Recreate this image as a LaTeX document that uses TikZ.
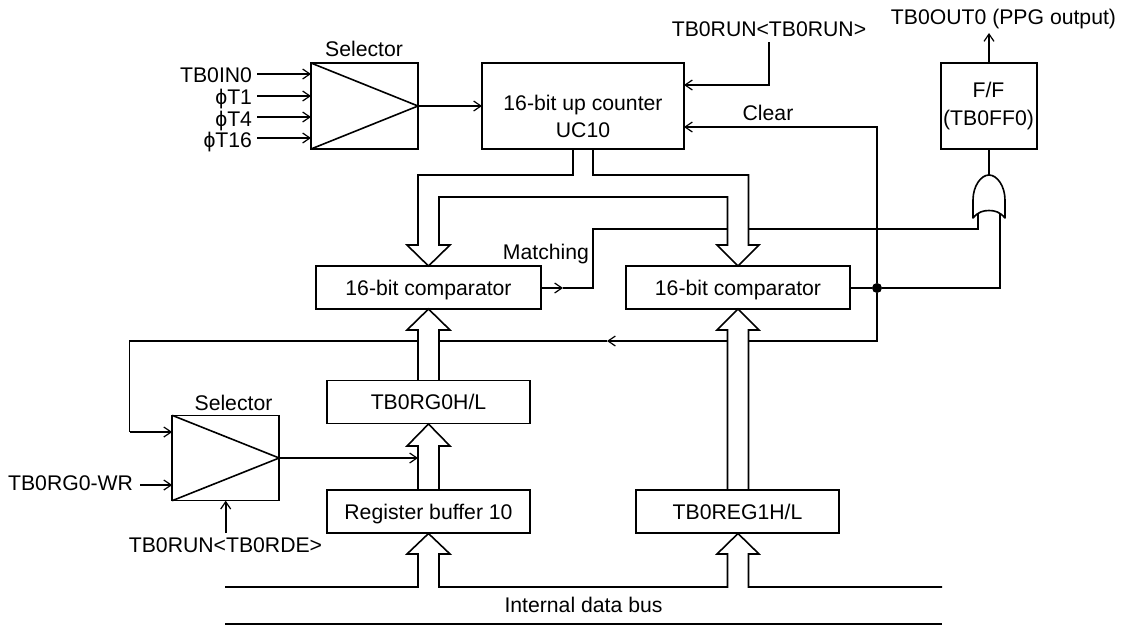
\documentclass[tikz,border=0pt]{standalone}
\usepackage{fontspec}
\setmainfont{Liberation Sans}
\usetikzlibrary{arrows.meta}
\tikzset{
  lw/.style={line width=1.2pt,line join=miter},
  lbl/.style={font=\fontsize{15.9}{20.2}\selectfont,inner sep=0pt,outer sep=0pt,text height=11.4pt,text depth=0pt},
  box/.style={lw,draw,fill=white,rectangle,inner sep=0pt,outer sep=0pt,font=\fontsize{15.9}{20.2}\selectfont,text height=11.4pt,text depth=0pt},
  arr/.style={lw,-{Straight Barb[length=5.5pt,width=7.5pt,line width=0.9pt]}},
  wire/.style={lw},
  bus/.style={lw}
}
\begin{document}
\begin{tikzpicture}[x=0.75pt,y=-0.75pt]
\useasboundingbox (0,0) rectangle (1125,626);
% Boxes
\node[box,minimum width=80.25pt,minimum height=64.5pt] (sel1) at (364.5,106) {};
\node[box,minimum width=151.5pt,minimum height=64.5pt] (uc) at (583,106) {};
\node[lbl] (uctext1) at (583,103) {16-bit up counter};
\node[lbl] (uctext2) at (583,130) {UC10};
\node[box,minimum width=72.4pt,minimum height=64.5pt] (ff) at (989,106) {};
\node[lbl] (fftext1) at (988.5,90) {F/F};
\node[lbl] (fftext2) at (988.5,118) {(TB0FF0)};
\node[box,minimum width=168.75pt,minimum height=32.25pt] (cmpa) at (428.5,287.5) {16-bit comparator};
\node[box,minimum width=168pt,minimum height=32.25pt] (cmpb) at (738,287.5) {16-bit comparator};
\node[box,minimum width=152.25pt,minimum height=32.25pt] (rg) at (428.5,402) {TB0RG0H/L};
\node[box,minimum width=152.25pt,minimum height=32.25pt] (buf) at (428.5,511.5) {Register buffer 10};
\node[box,minimum width=152.25pt,minimum height=32.25pt] (reg) at (737.5,511.5) {TB0REG1H/L};
\node[box,minimum width=80.25pt,minimum height=64pt] (sel2) at (225.7,458) {};
% Selector triangles
\draw[lw] (sel1.north west) -- (sel1.east) -- (sel1.south west);
\draw[lw] (sel2.north west) -- (sel2.east) -- (sel2.south west);
% Texts
\node[lbl] (s1t) at (364,49) {Selector};
\node[lbl] (s2t) at (233.5,403) {Selector};
\node[lbl,anchor=east] (i1) at (252,75) {TB0IN0};
\node[lbl,anchor=east] (i2) at (252,97) {ϕT1};
\node[lbl,anchor=east] (i3) at (252,119) {ϕT4};
\node[lbl,anchor=east] (i4) at (252,140) {ϕT16};
\node[lbl] (runt) at (769,29) {TB0RUN<TB0RUN>};
\node[lbl] (clr) at (768,113) {Clear};
\node[lbl] (outt) at (1003.5,17) {TB0OUT0 (PPG output)};
\node[lbl] (match) at (546,252) {Matching};
\node[lbl,anchor=east] (wr) at (133,483) {TB0RG0-WR};
\node[lbl] (rde) at (225.5,545) {TB0RUN<TB0RDE>};
\node[lbl] (idb) at (583.5,605) {Internal data bus};
% Named free ends
\coordinate (c1) at (257,74);
\coordinate (c2) at (257,96);
\coordinate (c3) at (257,117);
\coordinate (c4) at (257,138);
\draw[arr] (c1) -- (sel1.west |- c1);
\draw[arr] (c2) -- (sel1.west |- c2);
\draw[arr] (c3) -- (sel1.west |- c3);
\draw[arr] (c4) -- (sel1.west |- c4);
\draw[arr] (sel1.east) -- (uc.west);
% Run and clear
\coordinate (runs) at (769,42);
\coordinate (runt2) at (769,85);
\draw[arr] (runs) -- (runt2) -- (uc.east |- runt2);
\node[circle,fill=black,inner sep=0pt,minimum size=7.5pt] (dot) at (877,288) {};
\coordinate (clrc) at (877,127);
\draw[arr] (dot) -- (clrc) -- (uc.east |- clrc);
% FF and output
\coordinate (outc) at (989,33);
\draw[arr] (ff.north) -- (outc);
\coordinate (gtop) at (989,175);
\draw[wire] (ff.south) -- (gtop);
% OR gate
\draw[lw,line join=round] (973,218) -- (973,200) .. controls (973,186) and (981,175) .. (989,175) .. controls (997,175) and (1005,186) .. (1005,200) -- (1005,218) .. controls (1000,212) and (995,210.5) .. (989,210.5) .. controls (983,210.5) and (978,212) .. (973,218) -- cycle;
\coordinate (gatea) at (978,214);
\coordinate (gateb) at (1000,214);
% Comparator outputs
\coordinate (mid1) at (563,288);
\coordinate (m1) at (593,288);
\coordinate (m2) at (593,229);
\coordinate (m3) at (727.5,229);
\coordinate (m4) at (748.5,229);
\coordinate (m5) at (978,229);
\draw[arr] (cmpa.east |- mid1) -- (mid1);
\draw[wire] (mid1) -- (m1) -- (m2) -- (m3);
\draw[wire] (m4) -- (m5) -- (gatea);
\draw[wire] (cmpb.east |- dot) -- (dot);
\coordinate (o1) at (1000,288);
\draw[wire] (dot) -- (o1) -- (gateb);
% Clear feedback to selector
\coordinate (f1) at (877,341);
\coordinate (f2) at (748.5,341);
\coordinate (f3) at (727.5,341);
\coordinate (f4) at (607,341);
\coordinate (f5) at (439,341);
\coordinate (f6) at (418,341);
\coordinate (f7) at (129.5,341);
\coordinate (f8) at (129.5,432);
\draw[wire] (dot) -- (f1) -- (f2);
\draw[arr] (f3) -- (f4);
\draw[wire] (f4) -- (f5);
\draw[wire] (f6) -- (f7) -- (f8);
\draw[arr] (f8) -- (sel2.west |- f8);
% Selector 2 connections
\coordinate (wrs) at (140,485);
\draw[arr] (wrs) -- (sel2.west |- wrs);
\coordinate (rdes) at (225.7,533);
\draw[arr] (rdes) -- (sel2.south);
\coordinate (bwr) at (418,458);
\draw[arr] (sel2.east) -- (bwr);
% Hollow buses
\draw[bus] (573,149) -- (573,175) -- (418,175) -- (418,245) -- (407,245) -- (428.5,266) -- (450,245) -- (439,245) -- (439,197) -- (727.5,197) -- (727.5,245) -- (717,245) -- (738,266) -- (759,245) -- (748.5,245) -- (748.5,175) -- (593,175) -- (593,149);
\draw[bus] (418,380) -- (418,330) -- (407,330) -- (428.5,309) -- (450,330) -- (439,330) -- (439,380);
\draw[bus] (418,490) -- (418,446) -- (407,446) -- (428.5,424) -- (450,446) -- (439,446) -- (439,490);
\draw[bus] (727.5,490) -- (727.5,330) -- (717,330) -- (738,309) -- (759,330) -- (748.5,330) -- (748.5,490);
\draw[bus] (225,587) -- (418,587) -- (418,554) -- (407,554) -- (428.5,533.5) -- (450,554) -- (439,554) -- (439,587) -- (727.5,587) -- (727.5,554) -- (717,554) -- (738,533.5) -- (759,554) -- (748.5,554) -- (748.5,587) -- (942,587);
\coordinate (bl) at (225,624);
\coordinate (br) at (942,624);
\draw[wire] (bl) -- (br);
\end{tikzpicture}
\end{document}
